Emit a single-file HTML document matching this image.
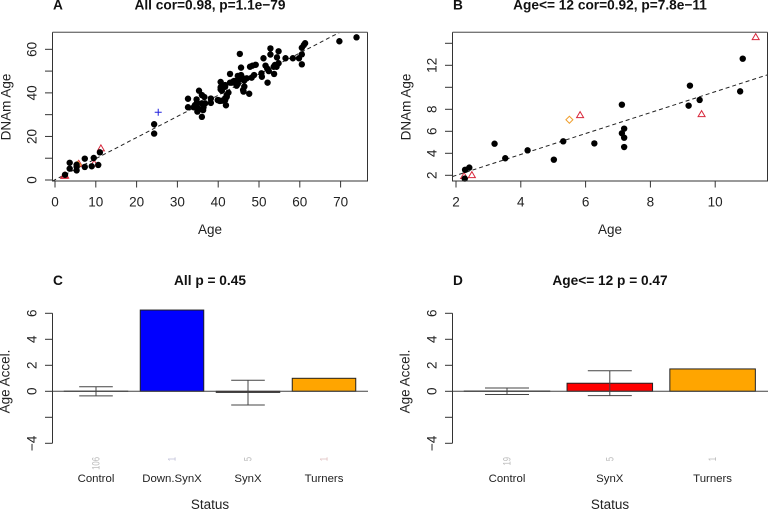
<!DOCTYPE html>
<html><head><meta charset="utf-8"><title>DNAm Age charts</title>
<style>
html,body{margin:0;padding:0;background:#fff;width:768px;height:510px;overflow:hidden}
svg{display:block}
text{font-family:"Liberation Sans",sans-serif;fill:#222}
.t{font-weight:bold;font-size:13.7px;fill:#111}
.a{font-size:13.5px}
.c{font-size:11.4px}
</style></head>
<body>
<svg id="chart" width="768" height="510" viewBox="0 0 768 510" xmlns="http://www.w3.org/2000/svg">
<defs>
<clipPath id="clipA"><rect x="52.5" y="32" width="315" height="149"/></clipPath>
<clipPath id="clipB"><rect x="452.5" y="32" width="315" height="149"/></clipPath>
</defs>
<text class="t" x="53" y="9.5">A</text>
<text class="t" x="210" y="9.5" text-anchor="middle">All cor=0.98, p=1.1e−79</text>
<text class="t" x="453" y="9.5">B</text>
<text class="t" x="610" y="9.5" text-anchor="middle">Age&lt;= 12 cor=0.92, p=7.8e−11</text>
<text class="t" x="53" y="285">C</text>
<text class="t" x="210" y="285" text-anchor="middle">All p = 0.45</text>
<text class="t" x="453" y="285">D</text>
<text class="t" x="610" y="285" text-anchor="middle">Age&lt;= 12 p = 0.47</text>
<text class="a" x="210" y="234" text-anchor="middle">Age</text>
<text class="a" x="610" y="234" text-anchor="middle">Age</text>
<text class="a" x="210" y="509" text-anchor="middle">Status</text>
<text class="a" x="610" y="509" text-anchor="middle">Status</text>
<text class="a" transform="translate(10.5,107) rotate(-90)" text-anchor="middle">DNAm Age</text>
<text class="a" transform="translate(410.5,107) rotate(-90)" text-anchor="middle">DNAm Age</text>
<text class="a" transform="translate(9.5,381.5) rotate(-90)" text-anchor="middle">Age Accel.</text>
<text class="a" transform="translate(409.5,381.5) rotate(-90)" text-anchor="middle">Age Accel.</text>
</svg>
<script>
// Panel A: all samples
const controlAgeA = [2.45,3.6,3.6,5.3,5.3,5.3,7.3,7.3,9.0,9.5,10.6,11.0,24.3,24.3,32.6,32.6,
35.3,36.0,36.6,34.7,34.8,34.3,34.0,34.8,35.3,34.9,36.4,36.3,36.0,36.8,36.0,38.2,38.2,39.9,40.4,40.9,41.9,41.7,42.1,42.5,
40.6,40.6,40.6,41.7,40.9,42.9,42.9,43.3,43.9,44.9,44.8,45.6,46.1,46.1,45.6,45.3,47.8,48.4,49.2,51.1,52.8,52.8,54.8,54.4,54.8,
53.9,53.6,54.3,51.6,52.0,52.4,53.7,52.1,50.6,50.7,48.8,48.2,47.0,46.4,44.8,45.1,44.5,44.5,46.4,46.2,47.6,43.6,
56.5,58.3,59.8,60.5,60.5,60.5,61.0,61.3,69.7,73.9,41.7,42.1,41.7,40.0];
const controlDnamA = [2.4,7.9,5.2,7.0,6.1,4.4,9.8,6.0,6.3,10.1,6.9,12.7,25.6,21.3,37.3,33.4,
41.0,39.0,38.1,37.0,35.5,34.4,33.4,33.4,32.5,31.4,33.4,32.1,35.2,35.2,29.0,35.4,37.4,36.7,36.3,36.4,34.3,36.7,38.2,40.1,
45.0,42.6,41.6,43.6,41.0,48.7,44.7,44.7,45.5,46.2,44.1,48.2,46.7,41.3,51.6,57.9,52.0,52.5,52.9,55.9,60.4,57.6,59.1,56.3,53.6,
52.8,52.0,52.0,52.5,51.2,50.0,48.7,44.7,49.0,47.4,48.2,47.0,46.7,45.7,47.8,45.9,44.4,43.3,42.9,40.6,39.6,45.1,
55.9,55.9,55.9,57.7,53.1,60.7,62.0,62.8,63.7,65.5,42.8,39.0,37.5,36.7];
const synxAge = [11.25,9.58,5.83,2.49,2.25];
const synxDnam = [14.57,7.57,7.48,2.03,1.94];
const turnerAge = [5.5];
const turnerDnam = [7.05];
const downAge = [25.3];
const downDnam = [31.1];
const fitA = [0.1, 0.97];
const xTicksA = [0,10,20,30,40,50,60,70];
const yTicksA = [0,10,20,30,40,50,60];
const yLabelsA = [0,20,40,60];

// Panel B: age <= 12
const controlAgeB = [2.28,2.41,2.27,3.19,3.52,4.21,5.02,5.31,6.27,7.12,7.19,7.12,7.19,7.19,9.22,9.18,9.52,10.77,10.85];
const controlDnamB = [2.5,2.7,1.7,4.87,3.55,4.27,3.42,5.09,4.9,8.42,6.24,5.82,5.42,4.57,10.15,8.33,8.85,9.63,12.6];
const fitB = [0.09, 0.951];
const xTicksB = [2,4,6,8,10];
const yTicksB = [2,4,6,8,10,12,14];
const yLabelsB = [2,4,6,8,12];

// Panel C and D: bars
const categoriesC = ["Control","Down.SynX","SynX","Turners"];
const meansC = [0.01,6.25,-0.08,1.0];
const errUpperC = [0.35,null,0.85,null];
const errLowerC = [-0.35,null,-1.05,null];
const countsC = ["106","1","5","1"];
const categoriesD = ["Control","SynX","Turners"];
const meansD = [0.02,0.62,1.72];
const errUpperD = [0.25,1.58,null];
const errLowerD = [-0.25,-0.33,null];
const countsD = ["19","5","1"];
const barColorsC = ["#ffffff","#0000ff","#ff0000","#ffa500"];
const barColorsD = ["#ffffff","#ff0000","#ffa500"];
const yTicksBar = [-4,-2,0,2,4,6];
const yLabelsBar = [-4,0,2,4,6];

const svg = document.getElementById('chart');
const NS = 'http://www.w3.org/2000/svg';
function mk(tag, attrs, parent){
  const e = document.createElementNS(NS, tag);
  for (const k in attrs) e.setAttribute(k, attrs[k]);
  (parent || svg).appendChild(e);
  return e;
}
const AXIS = '#333';
const minus = v => String(v).replace('-', '\u2212');

function axes(g, x, y, xt, yt, yl, left, bottom, ylabX){
  if (xt) xt.forEach(v => {
    const l = mk('line', {x1:x(v),x2:x(v),y1:bottom,y2:bottom+6.5,stroke:AXIS,'stroke-width':1}, g);
    
    
    const t = mk('text', {x:x(v),y:206.5,'text-anchor':'middle','class':'a'}, g);
    t.textContent = v;
    
    
  });
  yt.forEach(v => {
    const l = mk('line', {x1:left-7.5,x2:left,y1:y(v),y2:y(v),stroke:AXIS,'stroke-width':1}, g);
    
    
  });
  yl.forEach(v => {
    const t = mk('text', {transform:'translate('+ylabX+','+y(v)+') rotate(-90)','text-anchor':'middle','class':'a'}, g);
    t.textContent = minus(v);
    
    
  });
}

function scatter(name, clip, x, y, ctlX, ctlY, fit, bx, xt, yt, yl, ylabX){
  const g = mk('g', {});
  
  
  const xv = [(bx-x(0))/(x(1)-x(0)), (bx+315-x(0))/(x(1)-x(0))];
  const fl = mk('line', {x1:x(xv[0]),y1:y(fit[0]+fit[1]*xv[0]),x2:x(xv[1]),y2:y(fit[0]+fit[1]*xv[1]),stroke:'#222','stroke-width':1,'stroke-dasharray':'4 3','clip-path':'url(#'+clip+')'}, g);
  
  
  synxAge.forEach((a,i) => {
    const px = x(a), py = y(synxDnam[i]);
    const p = mk('path', {d:'M'+(px-3.5)+' '+(py+2.6)+'L'+(px+3.5)+' '+(py+2.6)+'L'+px+' '+(py-3.4)+'Z',fill:'none',stroke:'#d8283c','stroke-width':1}, g);
    
    
  });
  turnerAge.forEach((a,i) => {
    const px = x(a), py = y(turnerDnam[i]);
    const p = mk('path', {d:'M'+(px-3.5)+' '+py+'L'+px+' '+(py-3.5)+'L'+(px+3.5)+' '+py+'L'+px+' '+(py+3.5)+'Z',fill:'none',stroke:'#f0a030','stroke-width':1}, g);
    
    
  });
  ctlX.forEach((a,i) => {
    const c = mk('circle', {cx:x(a),cy:y(ctlY[i]),r:3.2,fill:'#000'}, g);
    
    
  });
  const box = mk('rect', {x:bx,y:32.5,width:315,height:148.5,fill:'none',stroke:AXIS,'stroke-width':1}, g);
  
  
  const top = mk('line', {x1:bx,x2:bx+315,y1:32.3,y2:32.3,stroke:'#777','stroke-width':1.4}, g);
  
  
  axes(g, x, y, xt, yt, yl, bx, 181, ylabX);
  return g;
}

const xA = v => 55 + v*4.08;
const yA = v => 180 - v*2.178;
const gA = scatter('panel-a-scatter','clipA',xA,yA,controlAgeA,controlDnamA,fitA,52.5,xTicksA,yTicksA,yLabelsA,36.5);
downAge.forEach((a,i) => {
  const px = xA(a), py = yA(downDnam[i]);
  const p = mk('path', {d:'M'+(px-3.5)+' '+py+'H'+(px+3.5)+'M'+px+' '+(py-3.5)+'V'+(py+3.5),fill:'none',stroke:'#2222dd','stroke-width':1}, gA);
  
  
});
const xB = v => 456 + (v-2)*32.4;
const yB = v => 175.3 - (v-2)*11;
scatter('panel-b-scatter','clipB',xB,yB,controlAgeB,controlDnamB,fitB,452.5,xTicksB,yTicksB,yLabelsB,436.5);

function bars(name, cats, means, up, lo, counts, colors, first, step, bw, capHalf, left, right, tints){
  const g = mk('g', {});
  
  
  const y = v => 391.3 - v*13;
  const cx = i => first + i*step;
  cats.forEach((c,i) => {
    const y0 = Math.min(y(0), y(means[i])), h = Math.abs(y(means[i])-y(0));
    const r = mk('rect', {x:cx(i)-bw/2,y:y0,width:bw,height:h,fill:colors[i],stroke:'#222','stroke-width':1}, g);
    
    
    const t = mk('text', {x:cx(i),y:482,'text-anchor':'middle','class':'c'}, g);
    t.textContent = c;
    
    
    const n = mk('text', {transform:'translate('+(cx(i)+3.6)+',457) rotate(-90) scale(0.72,1)','text-anchor':'end','font-size':'10.7',style:'fill:'+tints[i]}, g);
    n.textContent = counts[i];
    
    
  });
  const z = mk('line', {x1:left,x2:right,y1:y(0),y2:y(0),stroke:'#444','stroke-width':1}, g);
  
  
  cats.forEach((c,i) => {
    if (up[i] === null) return;
    const e = mk('path', {d:'M'+(cx(i)-capHalf)+' '+y(up[i])+'H'+(cx(i)+capHalf)+'M'+(cx(i)-capHalf)+' '+y(lo[i])+'H'+(cx(i)+capHalf)+'M'+cx(i)+' '+y(up[i])+'V'+y(lo[i]),fill:'none',stroke:'#444','stroke-width':1}, g);
    
    
  });
  const ax = mk('line', {x1:left,x2:left,y1:y(6),y2:y(-4),stroke:AXIS,'stroke-width':1}, g);
  
  
  axes(g, null, y, null, yTicksBar, yLabelsBar, left, 0, left-16);
}
bars('panel-c-bars',categoriesC,meansC,errUpperC,errLowerC,countsC,barColorsC,96,76,63.5,16.8,52.5,368,["#bcbcbc","#c0c0d8","#bcbcbc","#e0c0c0"]);
bars('panel-d-bars',categoriesD,meansD,errUpperD,errLowerD,countsD,barColorsD,507,102.8,85.5,22,452.5,768,["#bcbcbc","#bcbcbc","#bcbcbc"]);
</script>
</body></html>
